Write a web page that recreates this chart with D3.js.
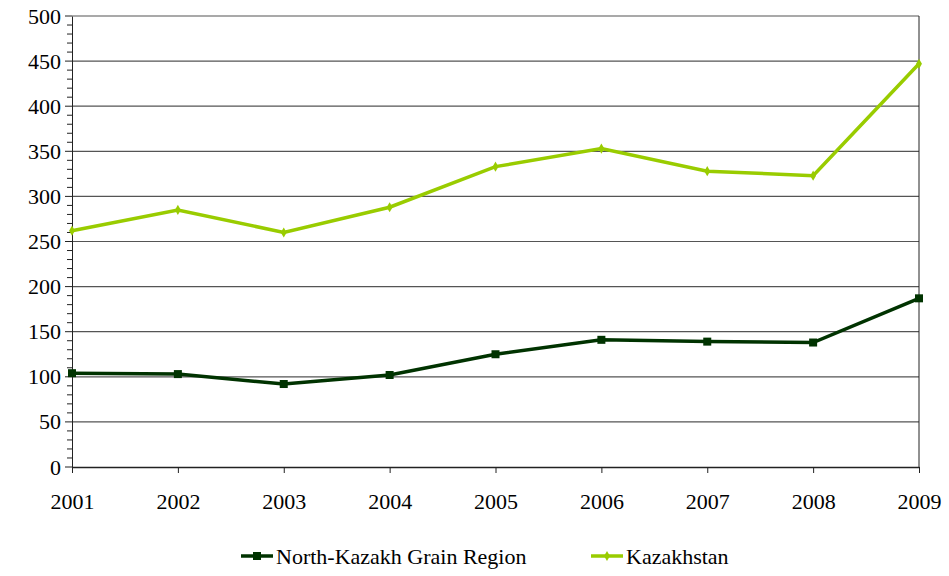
<!DOCTYPE html>
<html>
<head>
<meta charset="utf-8">
<script src="https://d3js.org/d3.v7.min.js"></script>
<style>
  svg text { font-family: "Liberation Serif", serif !important; font-size: 22px !important; }
</style>
</head>
<body style="margin:0">
<div id="chart"></div>
<script>
const years = [2001, 2002, 2003, 2004, 2005, 2006, 2007, 2008, 2009];
const northKazakh = [104, 103, 92, 102, 125, 141, 139, 138, 187];
const kazakhstan = [262, 285, 260, 288, 333, 353, 328, 323, 447];
const yTicks = [0, 50, 100, 150, 200, 250, 300, 350, 400, 450, 500];

const W = 949, H = 576;
const plotLeft = 72, plotRight = 919, plotTop = 16, plotBottom = 467;
const FONT = "Liberation Serif";

const svg = d3.select("#chart").append("svg")
  .attr("width", W)
  .attr("height", H)
  .attr("font-family", FONT);

const x = d3.scalePoint().domain(years).range([plotLeft, plotRight]);
const y = d3.scaleLinear().domain([0, 500]).range([plotBottom, plotTop]);

// gridlines
svg.append("g").selectAll("line")
  .data(yTicks.filter(d => d > 0))
  .enter().append("line")
  .attr("x1", plotLeft).attr("x2", plotRight)
  .attr("y1", d => y(d)).attr("y2", d => y(d))
  .attr("stroke", "#555")
  .attr("stroke-width", 1.2);

// right border
svg.append("line")
  .attr("x1", plotRight).attr("x2", plotRight)
  .attr("y1", plotTop).attr("y2", plotBottom)
  .attr("stroke", "#222").attr("stroke-width", 1);

// y axis with minor ticks
const yMinor = d3.range(0, 501, 10);
svg.append("g").selectAll("line")
  .data(yMinor)
  .enter().append("line")
  .attr("x1", d => d % 50 === 0 ? plotLeft - 7 : plotLeft - 5).attr("x2", plotLeft)
  .attr("y1", d => y(d)).attr("y2", d => y(d))
  .attr("stroke", "#222");

const yAxis = svg.append("g")
  .attr("transform", `translate(${plotLeft},0)`)
  .call(d3.axisLeft(y).tickValues(yTicks).tickSize(0).tickPadding(11));
yAxis.select(".domain").attr("stroke", "#222");
yAxis.selectAll("text").attr("fill", "#000")
  .style("font-family", FONT, "important").style("font-size", "22px", "important");

const xAxis = svg.append("g")
  .attr("transform", `translate(0,${plotBottom})`)
  .call(d3.axisBottom(x).tickSize(6).tickPadding(20).tickSizeOuter(0));
xAxis.select(".domain").attr("stroke", "#222").attr("stroke-width", 1.3);
xAxis.selectAll("line").attr("stroke", "#222");
xAxis.selectAll("text").attr("fill", "#000")
  .style("font-family", FONT, "important").style("font-size", "22px", "important");

const line = d3.line().x((d, i) => x(years[i])).y(d => y(d));

const darkGreen = "#003300", lightGreen = "#99cc00";

svg.append("path").datum(kazakhstan)
  .attr("d", line).attr("fill", "none")
  .attr("stroke", lightGreen).attr("stroke-width", 3.5);
svg.append("g").selectAll("path")
  .data(kazakhstan).enter().append("path")
  .attr("d", d3.symbol().type(d3.symbolDiamond).size(30))
  .attr("transform", (d, i) => `translate(${x(years[i])},${y(d)})`)
  .attr("fill", lightGreen);

svg.append("path").datum(northKazakh)
  .attr("d", line).attr("fill", "none")
  .attr("stroke", darkGreen).attr("stroke-width", 3.5);
svg.append("g").selectAll("rect")
  .data(northKazakh).enter().append("rect")
  .attr("x", (d, i) => x(years[i]) - 4).attr("y", d => y(d) - 4)
  .attr("width", 8).attr("height", 8)
  .attr("fill", darkGreen);

// legend
const legend = svg.append("g").attr("transform", "translate(0,556)");
const items = [
  { name: "North-Kazakh Grain Region", color: darkGreen, x0: 241, sq: true },
  { name: "Kazakhstan", color: lightGreen, x0: 591, sq: false }
];
items.forEach(it => {
  legend.append("line")
    .attr("x1", it.x0).attr("x2", it.x0 + 32)
    .attr("y1", 0).attr("y2", 0)
    .attr("stroke", it.color).attr("stroke-width", 3.5);
  if (it.sq) {
    legend.append("rect").attr("x", it.x0 + 12).attr("y", -4)
      .attr("width", 8).attr("height", 8).attr("fill", it.color);
  } else {
    legend.append("path")
      .attr("d", d3.symbol().type(d3.symbolDiamond).size(30))
      .attr("transform", `translate(${it.x0 + 16},0)`)
      .attr("fill", it.color);
  }
  legend.append("text")
    .attr("x", it.x0 + 35).attr("y", 0).attr("dy", "0.35em")
    .attr("fill", "#000")
    .style("font-family", FONT, "important").style("font-size", "22px", "important")
    .text(it.name);
});
</script>
</body>
</html>
